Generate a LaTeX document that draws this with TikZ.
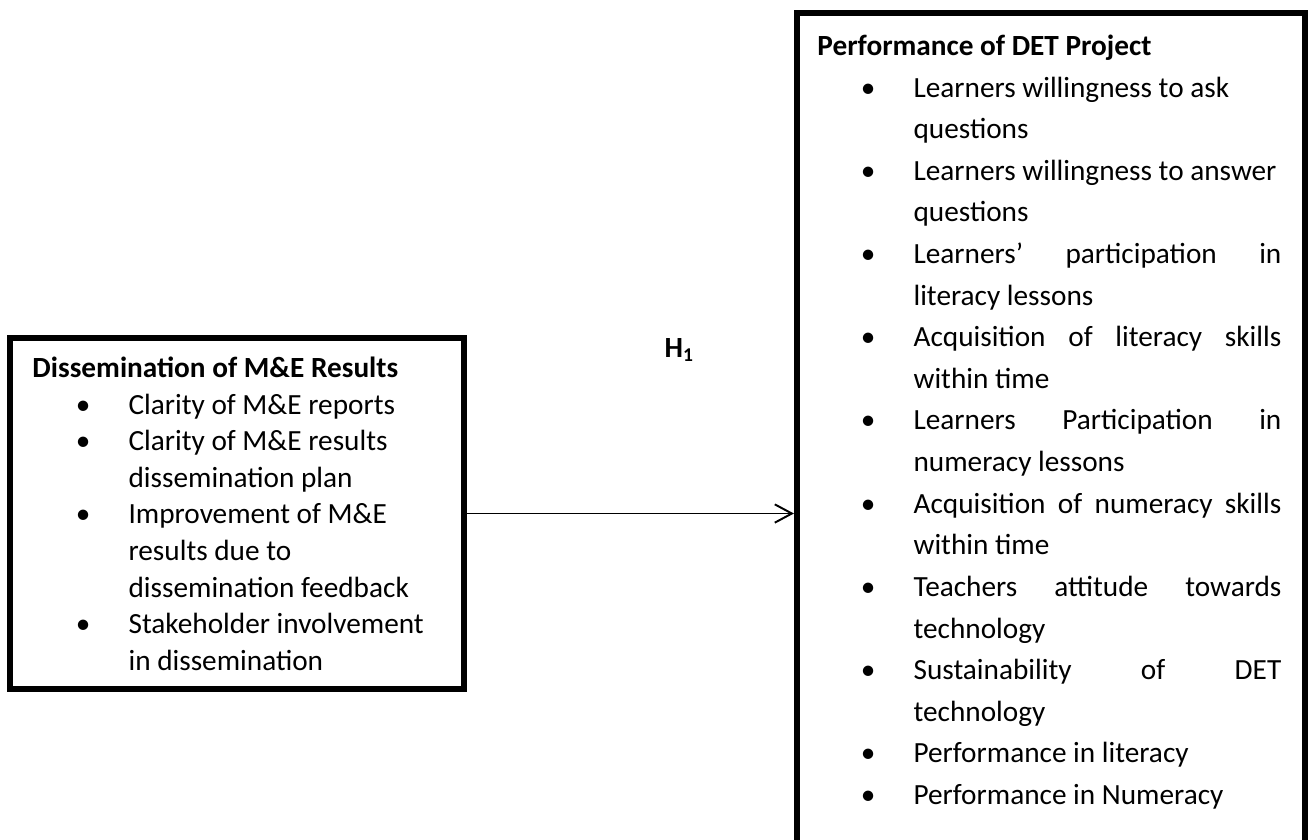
\documentclass[tikz,border=0pt]{standalone}
\usepackage{fontspec}
\setmainfont{Carlito}
\usetikzlibrary{positioning,fit,arrows.meta}

\tikzset{
  frame/.style={draw,line width=2.5pt,inner sep=0},
  block/.style={anchor=north west,inner sep=0,align=justify},
  link/.style={-{Straight Barb[length=7pt,width=7.5pt]},line width=0.8pt}
}
% bullet list with the indents of the two panels
\newenvironment{dotlist}{%
  \begin{list}{\textbullet}{%
    \setlength{\leftmargin}{39.4pt}\setlength{\labelsep}{15.6pt}%
    \setlength{\labelwidth}{23.8pt}\setlength{\itemsep}{0pt}%
    \setlength{\topsep}{0pt}\setlength{\partopsep}{0pt}\setlength{\parsep}{0pt}}}%
  {\end{list}}
\def\firstline{\rule{0pt}{12pt}}

\begin{document}
\begin{tikzpicture}[x=0.41pt,y=-0.41pt]
  \useasboundingbox (0,0) rectangle (1310,839);
  \clip (0,0) rectangle (1310,839);

  % frames
  \node[frame,fit={(10,338) (464,689)}] (dis) {};
  \node[frame,fit={(797,13) (1305,1014)}] (perf) {};

  % independent variable
  \node[block,text width=169.3pt,font=\fontsize{12}{15}\selectfont] (distext) at ([yshift=12pt]32,377) {%
    \firstline\textbf{Dissemination of M\&E Results}\par
    \begin{dotlist}
      \item Clarity of M\&E reports
      \item Clarity of M\&E results\newline dissemination plan
      \item Improvement of M\&E\newline results due to\newline dissemination feedback
      \item Stakeholder involvement\newline in dissemination
    \end{dotlist}};

  % dependent variable
  \node[block,text width=190.2pt,font=\fontsize{12}{17.06}\selectfont] (perftext) at ([yshift=12pt]817,55) {%
    \firstline\textbf{Performance of DET Project}\par
    \begin{dotlist}
      \item Learners willingness to ask\newline questions
      \item Learners willingness to answer\newline questions
      \item Learners’ participation in\linebreak literacy lessons
      \item Acquisition of literacy skills\linebreak within time
      \item Learners Participation in\linebreak numeracy lessons
      \item Acquisition of numeracy skills\linebreak within time
      \item Teachers attitude towards\linebreak technology
      \item Sustainability of DET\linebreak technology
      \item Performance in literacy
      \item Performance in Numeracy
    \end{dotlist}};

  \draw[link] (dis.east) -- (perf.west);
  \node[anchor=base west,font=\fontsize{12}{15}\selectfont] (hyp) at (656,357) {\textbf{H\textsubscript{1}}};
\end{tikzpicture}
\end{document}
